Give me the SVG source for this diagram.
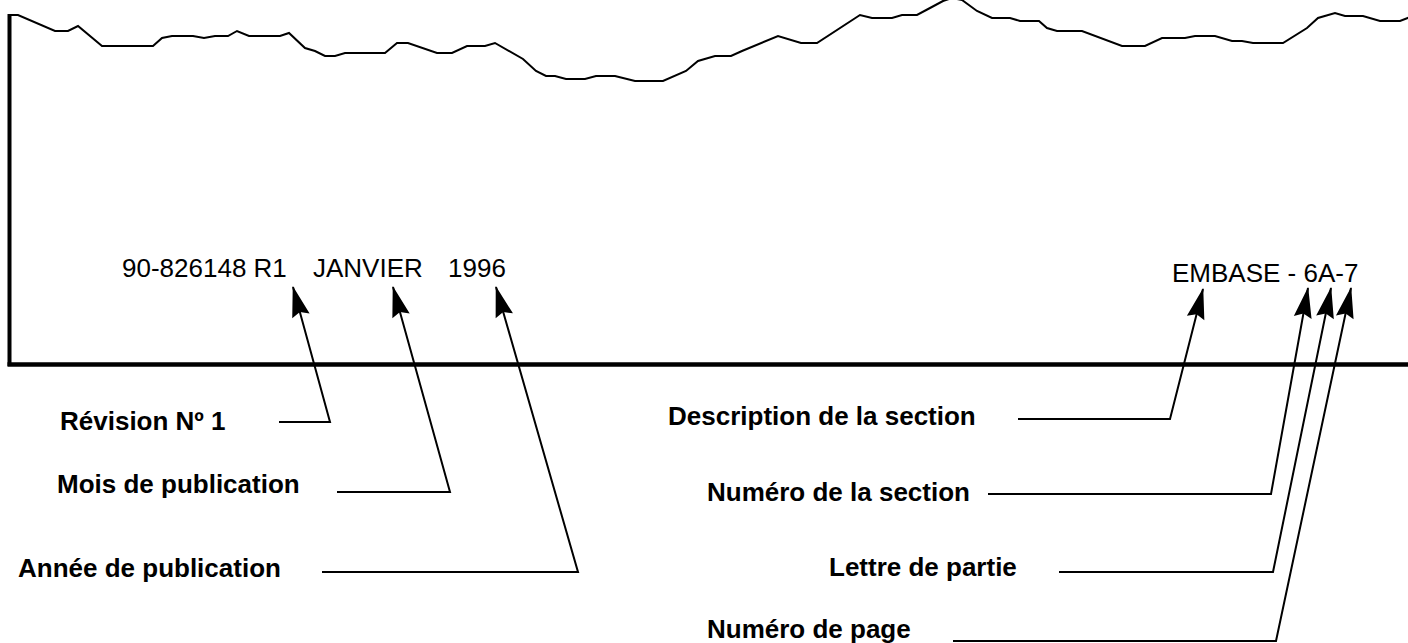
<svg xmlns="http://www.w3.org/2000/svg" width="1408" height="643" viewBox="0 0 1408 643">
<style>
.lbl{font-family:"Liberation Sans",Arial,Helvetica,sans-serif;font-size:26px;font-weight:bold;fill:#000}
.code{font-family:"Liberation Sans",Arial,Helvetica,sans-serif;font-size:26px;fill:#000}
.ln{fill:none;stroke:#000;stroke-width:2;stroke-linejoin:miter}
.frame{fill:none;stroke:#000}
</style>
<defs>
<marker id="ah" markerUnits="userSpaceOnUse" viewBox="-32 -12 34 24" markerWidth="34" markerHeight="24" refX="0" refY="0" orient="auto">
<path d="M1,0 L-30,-9 L-26,0 L-30,9 Z" fill="#000"/>
</marker>
</defs>
<rect width="1408" height="643" fill="#fff"/>
<g id="page">
<polyline class="frame" stroke-width="2" points="9,15 18,15 55,31 68,31 78,26 102,46 153,46 162,38 172,36 193,36 204,38 215,36 228,36 237,31 249,36 280,36 289,33 305,48 315,51 325,56 335,56 345,53 385,53 397,43 408,43 437,53 452,53 467,46 485,46 495,43 523,59 536,71 546,76 555,76 566,79 585,79 596,76 615,76 635,81 663,81 686,71 698,61 715,56 731,56 742,51 778,36 801,43 817,43 860,15 872,18 892,18 902,15 917,15 930,8 943,1 952,-2 962,0 977,11 992,18 1010,18 1020,21 1039,21 1047,28 1057,31 1082,31 1122,46 1145,46 1162,38 1185,38 1195,36 1215,36 1232,41 1242,41 1253,43 1283,43 1307,28 1318,18 1335,13 1345,16 1363,16 1380,21 1400,21 1410,17"/>
<line class="frame" stroke-width="4" x1="9.5" y1="14" x2="9.5" y2="366"/>
<line class="frame" stroke-width="4.5" x1="7.5" y1="364.5" x2="1408" y2="364.5"/>
</g>
<g id="code-left">
<text class="code" y="277"><tspan x="122">90-826148 R1</tspan><tspan x="313">JANVIER</tspan><tspan x="448">1996</tspan></text>
</g>
<g id="code-right">
<text class="code" x="1172" y="282">EMBASE - 6A-7</text>
</g>
<g id="n-revision"><text class="lbl" x="60" y="430">Révision Nº 1</text></g>
<g id="n-mois"><text class="lbl" x="57" y="493">Mois de publication</text></g>
<g id="n-annee"><text class="lbl" x="18" y="577">Année de publication</text></g>
<g id="n-description"><text class="lbl" x="668" y="425">Description de la section</text></g>
<g id="n-numsection"><text class="lbl" x="707" y="501">Numéro de la section</text></g>
<g id="n-lettre"><text class="lbl" x="829" y="576">Lettre de partie</text></g>
<g id="n-page"><text class="lbl" x="707" y="638">Numéro de page</text></g>
<g id="connectors">
<polyline class="ln" marker-end="url(#ah)" points="279,422 330,422 293,287"/>
<polyline class="ln" marker-end="url(#ah)" points="337,492 450,492 393,287"/>
<polyline class="ln" marker-end="url(#ah)" points="322,572 578,572 496,287"/>
<polyline class="ln" marker-end="url(#ah)" points="1018,419 1170,419 1203,289"/>
<polyline class="ln" marker-end="url(#ah)" points="988,494 1271,494 1308,288"/>
<polyline class="ln" marker-end="url(#ah)" points="1059,572 1273,572 1331,288"/>
<polyline class="ln" marker-end="url(#ah)" points="953,641 1276,641 1351,288"/>
</g>
</svg>
